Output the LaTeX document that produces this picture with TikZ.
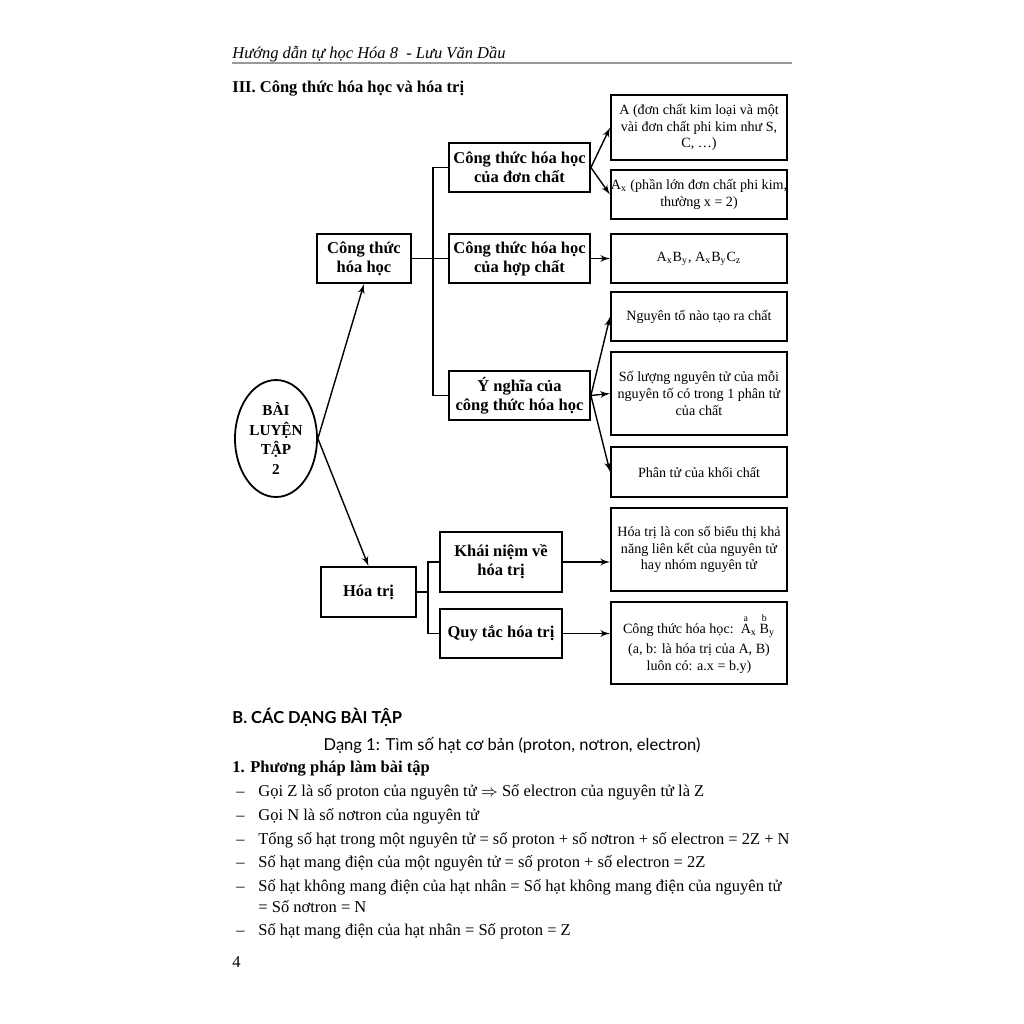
\documentclass[tikz,border=0pt]{standalone}
\usepackage{amsmath}
\usepackage{fontspec}
\setmainfont{Liberation Serif}
\newfontfamily\headsans{Lato}
\usepackage{tikz}
\usetikzlibrary{shapes,arrows,calc}
\tikzstyle{arrow} = [draw, -latex', line width=0.7pt]
\tikzstyle{line} = [draw, line width=0.6pt]
\tikzstyle{block} = [draw, rectangle, line width=0.9pt, align=center, inner sep=0pt, font=\fontsize{8.25}{9.5}\selectfont\bfseries]
\tikzstyle{note} = [draw, rectangle, line width=0.9pt, align=center, inner sep=0pt, minimum width=88pt, font=\fontsize{7.05}{8.35}\selectfont]
\tikzstyle{body} = [anchor=base west, inner sep=0pt, font=\fontsize{8.25}{10}\selectfont]

\begin{document}
\begin{tikzpicture}[x=0.5pt, y=-0.5pt]
      \useasboundingbox (0,0) rectangle (1024,1024);

      % page head
      \node (head) at (232, 58) [body] {\itshape Hướng dẫn tự học Hóa 8\ \ - Lưu Văn Dầu};
      \draw[gray!80, line width=0.6pt] (232,63) -- (792,63);
      \node (title) at (232, 92) [body] {\bfseries III. Công thức hóa học và hóa trị};

      % boxes
      \node (kimloai) at (699, 127.5) [note, minimum height=32.5pt] {A (đơn chất kim loại và một\\vài đơn chất phi kim như S,\\C, \dots)};
      \node (phikim) at (699, 194.5) [note, minimum height=24.5pt] {A\textsubscript{x} (phần lớn đơn chất phi kim,\\thường x = 2)};
      \node (ctdon) at (519.5, 167.5) [block, minimum width=70.5pt, minimum height=24.5pt] {Công thức hóa học\\của đơn chất};
      \node (cthh) at (364, 258.5) [block, minimum width=47pt, minimum height=24.5pt] {Công thức\\hóa học};
      \node (cthop) at (519.5, 258.5) [block, minimum width=70.5pt, minimum height=24.5pt] {Công thức hóa học\\của hợp chất};
      \node (hopchat) at (699, 258.5) [note, minimum height=24.5pt] {A\textsubscript{x}B\textsubscript{y}, A\textsubscript{x}B\textsubscript{y}C\textsubscript{z}};
      \node (nguyento) at (699, 316.5) [note, minimum height=24.5pt] {Nguyên tố nào tạo ra chất};
      \node (soluong) at (699, 393.5) [note, minimum height=41.5pt] {Số lượng nguyên tử của mỗi\\nguyên tố có trong 1 phân tử\\của chất};
      \node (ynghia) at (519.5, 395.5) [block, minimum width=70.5pt, minimum height=24.5pt] {Ý nghĩa của\\công thức hóa học};
      \node (phantu) at (699, 472) [note, minimum height=25pt] {Phân tử của khối chất};
      \node (bai) at (276, 438.5) [draw, ellipse, line width=0.9pt, minimum width=41pt, minimum height=58.5pt, inner sep=0pt, align=center, font=\fontsize{7.6}{9.8}\selectfont\bfseries] {BÀI\\LUYỆN\\TẬP\\2};
      \node (khainiem) at (501, 562) [block, minimum width=61pt, minimum height=30pt] {Khái niệm về\\hóa trị};
      \node (hoatri) at (368.5, 592) [block, minimum width=47.5pt, minimum height=25pt] {Hóa trị};
      \node (quytac) at (501, 633.5) [block, minimum width=61pt, minimum height=24.5pt] {Quy tắc hóa trị};
      \node (dinhnghia) at (699, 549.5) [note, minimum height=41.5pt] {Hóa trị là con số biểu thị khả\\năng liên kết của nguyên tử\\hay nhóm nguyên tử};
      \node (quytacbox) at (699, 643) [note, minimum height=41pt] {Công thức hóa học:\ \ $\overset{\text{a}}{\text{A}}_{\text{x}}\,\overset{\text{b}}{\text{B}}_{\text{y}}$\\[2pt](a, b: là hóa trị của A, B)\\luôn có: a.x = b.y)};

      % connectors
      \coordinate (j1) at (433, 258.5);
      \coordinate (j2) at (428, 592);
      \path[line] (ctdon.west) -| (j1) |- (ynghia.west);
      \path[line] (cthh.east) -- (cthop.west);
      \path[arrow] (ctdon.east) -- (kimloai.west);
      \path[arrow] (ctdon.east) -- (phikim.west);
      \path[arrow] (cthop.east) -- (hopchat.west);
      \path[arrow] (ynghia.east) -- (nguyento.west);
      \path[arrow] (ynghia.east) -- (soluong.west);
      \path[arrow] (ynghia.east) -- (phantu.west);
      \path[arrow] (bai.east) -- (cthh.south);
      \path[arrow] (bai.east) -- (hoatri.north);
      \path[line] (hoatri.east) -- (j2);
      \path[line] (khainiem.west) -| (j2) |- (quytac.west);
      \path[arrow] (khainiem.east) -- (khainiem.east -| dinhnghia.west);
      \path[arrow] (quytac.east) -- (quytac.east -| quytacbox.west);

      % text below
      \node (partb) at (232, 723) [body] {\headsans\bfseries B. CÁC DẠNG BÀI TẬP};
      \node (dang) at (512, 750) [body, anchor=base] {\headsans Dạng 1: Tìm số hạt cơ bản (proton, nơtron, electron)};
      \node (method) at (232, 772) [body] {\bfseries 1. Phương pháp làm bài tập};
      \node (d1) at (236, 796) [body] {--};
      \node (r1) at (258, 796) [body] {Gọi Z là số proton của nguyên tử $\Rightarrow$ Số electron của nguyên tử là Z};
      \node (d2) at (236, 820) [body] {--};
      \node (r2) at (258, 820) [body] {Gọi N là số nơtron của nguyên tử};
      \node (d3) at (236, 844) [body] {--};
      \node (r3) at (258, 844) [body] {Tổng số hạt trong một nguyên tử = số proton + số nơtron + số electron = 2Z + N};
      \node (d4) at (236, 867) [body] {--};
      \node (r4) at (258, 867) [body] {Số hạt mang điện của một nguyên tử = số proton + số electron = 2Z};
      \node (d5) at (236, 891) [body] {--};
      \node (r5) at (258, 891) [body] {Số hạt không mang điện của hạt nhân = Số hạt không mang điện của nguyên tử};
      \node (r5b) at (258, 912) [body] {= Số nơtron = N};
      \node (d6) at (236, 935) [body] {--};
      \node (r6) at (258, 935) [body] {Số hạt mang điện của hạt nhân = Số proton = Z};
      \node (page) at (232, 967) [body] {4};
    \end{tikzpicture}
\end{document}
